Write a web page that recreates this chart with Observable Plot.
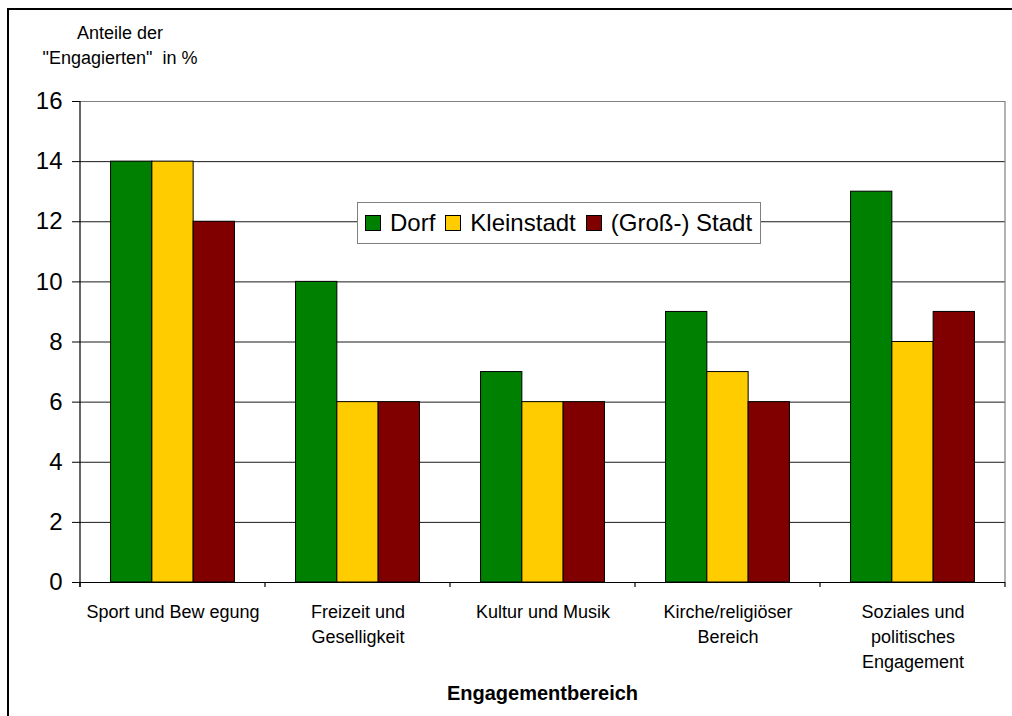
<!DOCTYPE html>
<html><head><meta charset="utf-8">
<script src="https://cdn.jsdelivr.net/npm/d3@7"></script>
<script src="https://cdn.jsdelivr.net/npm/@observablehq/plot@0.6"></script>
<style>
html,body{margin:0;padding:0;background:#fff;overflow:hidden;}
#wrap{position:relative;width:1012px;height:716px;font-family:"Liberation Sans",Arial,sans-serif;color:#000;}
#frame{position:absolute;left:7px;top:8px;width:1100px;height:800px;border-left:2px solid #000;border-top:2px solid #000;}
#chart{position:absolute;left:0;top:0;}
#ytitle{position:absolute;left:20px;top:21px;width:200px;text-align:center;font-size:18px;line-height:25px;white-space:pre;}
#legend{position:absolute;left:357px;top:202px;height:40px;border:1px solid #808080;background:#fff;display:flex;align-items:center;padding:0 8px 0 7px;font-size:24px;}
#legend .sw{display:inline-block;width:14px;height:14px;border:1px solid #000;margin-right:9px;}
#legend .it{display:flex;align-items:center;margin-right:10px;}
#legend .it:last-child{margin-right:0;}
</style>
</head><body>
<div id="wrap">
  <div id="frame"></div>
  <div id="chart"></div>
  <div id="ytitle"></div>
  <div id="legend"></div>
</div>
<script>
const categories = ["Sport und Bewegung", "Freizeit und Geselligkeit", "Kultur und Musik", "Kirche/religiöser Bereich", "Soziales und politisches Engagement"];
const tickLabels = ["Sport und Bew egung", "Freizeit und\nGeselligkeit", "Kultur und Musik", "Kirche/religiöser\nBereich", "Soziales und\npolitisches\nEngagement"];
const series = ["Dorf", "Kleinstadt", "(Groß-) Stadt"];
const dorf = [14, 10, 7, 9, 13];
const kleinstadt = [14, 6, 6, 7, 8];
const stadt = [12, 6, 6, 6, 9];
const yTicks = [0, 2, 4, 6, 8, 10, 12, 14, 16];
const colors = ["#008000", "#FFCC00", "#800000"];
const yTitle = "Anteile der\n\"Engagierten\"  in %";
const xTitle = "Engagementbereich";

const values = [dorf, kleinstadt, stadt];
const data = [];
categories.forEach((c, i) => series.forEach((s, j) => data.push({category: c, series: s, value: values[j][i]})));
const labelOf = new Map(categories.map((c, i) => [c, tickLabels[i]]));

const W = 1012, H = 716;
const chart = Plot.plot({
  width: W, height: H,
  marginLeft: 80, marginRight: 7, marginTop: 101, marginBottom: 134,
  style: {fontFamily: "'Liberation Sans', Arial, sans-serif", background: "transparent", overflow: "visible", color: "#000"},
  fx: {domain: categories, padding: 0, round: false},
  x: {domain: series, paddingInner: 0, paddingOuter: 0.74, round: false, axis: null},
  y: {domain: [0, 16]},
  color: {domain: series, range: colors},
  marks: [
    Plot.gridY(yTicks.filter(t => t > 0 && t < 16), {stroke: "#000", strokeOpacity: 0.9, strokeWidth: 1}),
    Plot.ruleY([16], {stroke: "#808080", strokeWidth: 1.2}),
    Plot.barY(data, {fx: "category", x: "series", y: "value", fill: "series", stroke: "#000", strokeWidth: 1, inset: 0}),
    Plot.ruleY([0], {stroke: "#000", strokeWidth: 1.2}),
    Plot.axisY({ticks: yTicks, tickSize: 8, tickPadding: 10, fontSize: 24, label: null, stroke: "#000"}),
    Plot.axisFx({anchor: "bottom", tickSize: 0, tickPadding: 18, fontSize: 18, lineHeight: 1.39, label: null, tickFormat: d => labelOf.get(d)})
  ]
});
document.getElementById("chart").appendChild(chart);

// decorations derived from the plot's scales
const fx = chart.scale("fx");
const ys = chart.scale("y");
const y0 = ys.apply(0), y16 = ys.apply(16);
const left = fx.range[0], right = fx.range[1];
const step = (right - left) / categories.length;
const bounds = categories.map((c, i) => fx.apply ? fx.apply(c) : left + i * step);
bounds.push(right);
const svg = d3.select(chart);
const g = svg.append("g");
g.selectAll("line.bt").data(bounds).join("line")
  .attr("x1", d => d).attr("x2", d => d).attr("y1", y0).attr("y2", y0 + 5)
  .attr("stroke", "#000").attr("stroke-width", 1.2);
g.append("line").attr("x1", right).attr("x2", right).attr("y1", y16).attr("y2", y0)
  .attr("stroke", "#808080").attr("stroke-width", 1.2);
g.append("line").attr("x1", left).attr("x2", left).attr("y1", y16).attr("y2", y0 + 5)
  .attr("stroke", "#000").attr("stroke-width", 1.2);
g.append("text").attr("x", (left + right) / 2).attr("y", 700)
  .attr("text-anchor", "middle").attr("font-weight", "bold").attr("font-size", 20)
  .attr("font-family", "'Liberation Sans', Arial, sans-serif").attr("fill", "#000")
  .text(xTitle);

document.getElementById("ytitle").textContent = yTitle;
const leg = document.getElementById("legend");
series.forEach((s, i) => {
  const it = document.createElement("span");
  it.className = "it";
  const sw = document.createElement("span");
  sw.className = "sw";
  sw.style.background = colors[i];
  it.appendChild(sw);
  it.appendChild(document.createTextNode(s));
  leg.appendChild(it);
});
</script>
</body></html>
